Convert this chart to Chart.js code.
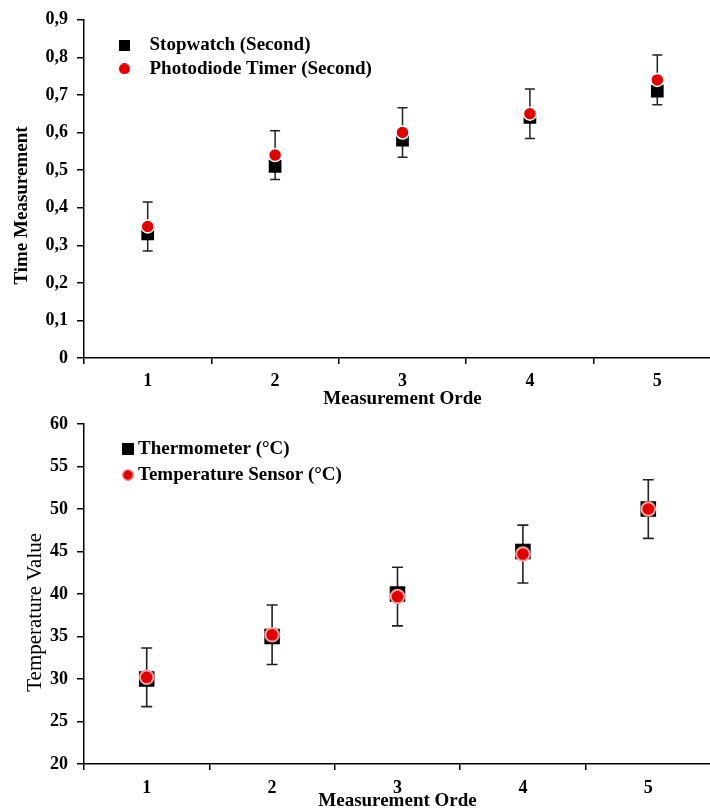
<!DOCTYPE html>
<html><head><meta charset="utf-8">
<script src="https://cdn.jsdelivr.net/npm/chart.js@4/dist/chart.umd.min.js"></script>
<style>
html,body{margin:0;padding:0;background:#fff;overflow:hidden;width:710px;height:809px;}
canvas{position:absolute;left:0;}
#c1{top:0;width:730px;height:410px;}
#c2{top:400px;width:722px;height:412px;}
</style></head><body>
<canvas id="c1" width="730" height="410"></canvas>
<canvas id="c2" width="722" height="412"></canvas>
<script>
// ---- data ----
const orders = ['1', '2', '3', '4', '5'];
const stopwatch = [0.33, 0.51, 0.58, 0.64, 0.71];
const photodiode = [0.35, 0.54, 0.60, 0.65, 0.74];
const photodiodeErr = [0.065, 0.065, 0.066, 0.066, 0.066];
const timeTicks = ['0', '0,1', '0,2', '0,3', '0,4', '0,5', '0,6', '0,7', '0,8', '0,9'];
const thermometer = [30, 35, 40, 45, 50];
const tempSensor = [30.2, 35.2, 39.7, 44.7, 50.0];
const tempErr = [3.45, 3.5, 3.45, 3.4, 3.45];
const tempTicks = ['20', '25', '30', '35', '40', '45', '50', '55', '60'];

const F = "'Liberation Serif', 'Times New Roman', serif";
const PAD = '\u00A0'.repeat(7); // trailing room so the rotated title sits lower, as in the original

function markerImg(shape, size, fill, stroke, lw) {
  const c = document.createElement('canvas');
  c.width = size; c.height = size;
  const g = c.getContext('2d');
  g.fillStyle = fill;
  if (shape === 'rect') {
    g.fillRect(0, 0, size, size);
  } else {
    g.beginPath();
    g.arc(size / 2, size / 2, size / 2 - (lw ? lw / 2 : 0), 0, Math.PI * 2);
    g.fill();
    if (lw) { g.strokeStyle = stroke; g.lineWidth = lw; g.stroke(); }
  }
  return c;
}

const errorBarPlugin = {
  id: 'errorBars',
  beforeDatasetsDraw(chart, args, opts) {
    const ctx = chart.ctx;
    const ys = chart.scales.y;
    chart.data.datasets.forEach((ds, i) => {
      if (!ds.errors) return;
      const meta = chart.getDatasetMeta(i);
      ctx.save();
      ctx.strokeStyle = opts.color || '#222';
      ctx.lineWidth = opts.width || 1.5;
      meta.data.forEach((pt, j) => {
        const v = ds.data[j], e = ds.errors[j];
        const x = pt.x;
        const yt = ys.getPixelForValue(v + e), yb = ys.getPixelForValue(v - e);
        const cap = opts.cap || 5;
        ctx.beginPath();
        ctx.moveTo(x, yt); ctx.lineTo(x, yb);
        ctx.moveTo(x - cap, yt); ctx.lineTo(x + cap, yt);
        ctx.moveTo(x - cap, yb); ctx.lineTo(x + cap, yb);
        ctx.stroke();
      });
      ctx.restore();
    });
  }
};

const legendPlace = {
  id: 'legendPlace',
  afterLayout(chart, args, opts) {
    const lg = chart.legend, ca = chart.chartArea;
    if (!lg) return;
    lg.left = ca.left + opts.dx;
    lg.top = ca.top + opts.dy;
    lg.right = ca.right;
    lg.bottom = ca.bottom;
    lg.width = lg.right - lg.left;
    lg.height = lg.bottom - lg.top;
  }
};

function axisCommon(tickLen) {
  return {
    grid: { display: true, drawOnChartArea: false, drawTicks: true, tickLength: tickLen, color: '#000', lineWidth: 1.5 },
    border: { display: true, color: '#000', width: 1.5 }
  };
}

// ---- chart 1 ----
const legImgs1 = [markerImg('rect', 11, '#000'), markerImg('circle', 11, '#e00000')];
new Chart(document.getElementById('c1'), {
  type: 'line',
  data: {
    labels: orders,
    datasets: [
      { label: 'Stopwatch (Second)', data: stopwatch, showLine: false, pointStyle: 'rect', pointRadius: 9,
        pointBackgroundColor: '#000', pointBorderColor: '#000', pointBorderWidth: 0, order: 2 },
      { label: 'Photodiode Timer (Second)', data: photodiode, errors: photodiodeErr, showLine: false, pointStyle: 'circle',
        pointRadius: 6.5, pointBackgroundColor: '#e00000', pointBorderColor: '#fff', pointBorderWidth: 1.5, order: 1 }
    ]
  },
  options: {
    responsive: false, animation: false, events: [],
    layout: { padding: { top: 15, right: 8.5, left: 0, bottom: 0 } },
    plugins: {
      tooltip: { enabled: false },
      errorBars: { color: '#222', width: 1.5, cap: 5 },
      legendPlace: { dx: 20.5, dy: 11.5 },
      legend: {
        position: 'chartArea', align: 'start',
        labels: {
          usePointStyle: true, pointStyleWidth: 31, padding: 4.5, color: '#000',
          font: { family: F, size: 19, weight: 'bold' },
          generateLabels: (chart) => chart.data.datasets.map((ds, i) => ({
            text: ds.label, pointStyle: legImgs1[i], fillStyle: ds.pointBackgroundColor,
            strokeStyle: ds.pointBackgroundColor, lineWidth: 0, hidden: false, datasetIndex: i, fontColor: '#000'
          }))
        }
      }
    },
    scales: {
      x: Object.assign(axisCommon(6), {
        type: 'category', offset: true,
        grid: { display: true, offset: true, drawOnChartArea: false, drawTicks: true, tickLength: 6, color: '#000', lineWidth: 1.5 },
        ticks: { color: '#000', font: { family: F, size: 18, weight: 'bold' }, padding: 7, maxRotation: 0 },
        title: { display: true, text: 'Measurement Orde', color: '#000', font: { family: F, size: 19, weight: 'bold' }, padding: { top: 0, bottom: 0 } },
        afterFit(s) { s.height = 52; }
      }),
      y: Object.assign(axisCommon(7), {
        min: 0, max: 0.9,
        ticks: { stepSize: 0.1, color: '#000', font: { family: F, size: 18, weight: 'bold' }, padding: 9,
                 callback: (v, i) => timeTicks[i] },
        title: { display: true, text: 'Time Measurement' + PAD, color: '#000', font: { family: F, size: 19, weight: 'bold' }, padding: { top: 10.6, bottom: 0 } },
        afterFit(s) { s.width = 84; }
      })
    }
  },
  plugins: [errorBarPlugin, legendPlace]
});

// ---- chart 2 ----
const legImgs2 = [markerImg('rect', 12, '#000'), markerImg('circle', 12, '#e00000', '#f08a8a', 1.5)];
new Chart(document.getElementById('c2'), {
  type: 'line',
  data: {
    labels: orders,
    datasets: [
      { label: 'Thermometer (°C)', data: thermometer, showLine: false, pointStyle: 'rect', pointRadius: 11,
        pointBackgroundColor: '#000', pointBorderColor: '#000', pointBorderWidth: 0, order: 2 },
      { label: 'Temperature Sensor (°C)', data: tempSensor, errors: tempErr, showLine: false, pointStyle: 'circle',
        pointRadius: 6.8, pointBackgroundColor: '#e00000', pointBorderColor: '#f4a0a0', pointBorderWidth: 2, order: 1 }
    ]
  },
  options: {
    responsive: false, animation: false, events: [],
    layout: { padding: { top: 24, right: 8, left: 0, bottom: 0 } },
    plugins: {
      tooltip: { enabled: false },
      errorBars: { color: '#222', width: 1.6, cap: 5.5 },
      legendPlace: { dx: 36.5, dy: 8.5 },
      legend: {
        position: 'chartArea', align: 'start',
        labels: {
          usePointStyle: true, pointStyleWidth: 1, padding: 7, color: '#000',
          font: { family: F, size: 19, weight: 'bold' },
          generateLabels: (chart) => chart.data.datasets.map((ds, i) => ({
            text: ds.label, pointStyle: legImgs2[i], fillStyle: ds.pointBackgroundColor,
            strokeStyle: ds.pointBackgroundColor, lineWidth: 0, hidden: false, datasetIndex: i, fontColor: '#000'
          }))
        }
      }
    },
    scales: {
      x: Object.assign(axisCommon(6), {
        type: 'category', offset: true,
        grid: { display: true, offset: true, drawOnChartArea: false, drawTicks: true, tickLength: 6, color: '#000', lineWidth: 1.5 },
        ticks: { color: '#000', font: { family: F, size: 18, weight: 'bold' }, padding: 8, maxRotation: 0 },
        title: { display: true, text: 'Measurement Orde', color: '#000', font: { family: F, size: 19, weight: 'bold' }, padding: { top: 0, bottom: 0 } },
        afterFit(s) { s.height = 48; }
      }),
      y: Object.assign(axisCommon(7), {
        min: 20, max: 60,
        ticks: { stepSize: 5, color: '#000', font: { family: F, size: 18, weight: 'bold' }, padding: 9,
                 callback: (v, i) => tempTicks[i] },
        title: { display: true, text: 'Temperature Value' + PAD, color: '#000', font: { family: F, size: 21, weight: 'normal' }, padding: { top: 22.4, bottom: 0 } },
        afterFit(s) { s.width = 84; }
      })
    }
  },
  plugins: [errorBarPlugin, legendPlace]
});
</script>
</body></html>
